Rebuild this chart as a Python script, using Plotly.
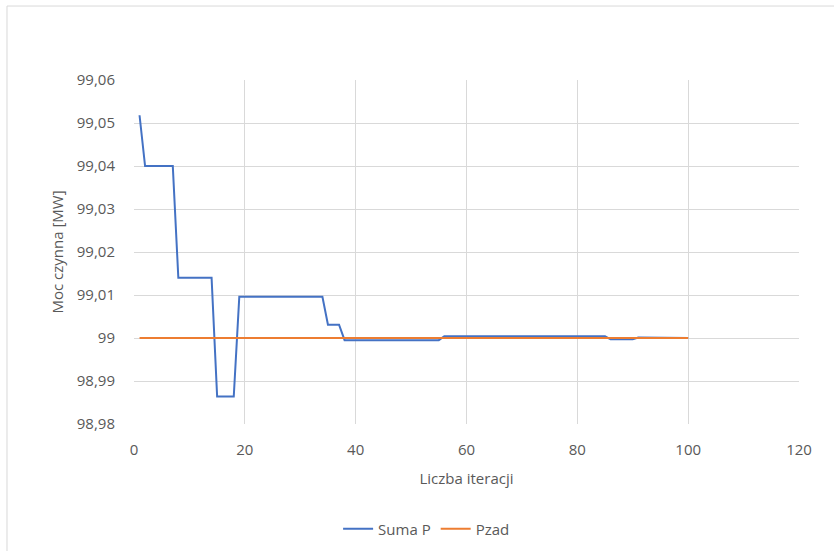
import plotly.graph_objects as go

iterations = list(range(1, 101))
suma_p = [
    99.0518,
    99.0400, 99.0400, 99.0400, 99.0400, 99.0400, 99.0400,
    99.0140, 99.0140, 99.0140, 99.0140, 99.0140, 99.0140, 99.0140,
    98.9864, 98.9864, 98.9864, 98.9864,
    99.0096, 99.0096, 99.0096, 99.0096, 99.0096, 99.0096, 99.0096, 99.0096,
    99.0096, 99.0096, 99.0096, 99.0096, 99.0096, 99.0096, 99.0096, 99.0096,
    99.0031, 99.0031, 99.0031,
    98.9995, 98.9995, 98.9995, 98.9995, 98.9995, 98.9995, 98.9995, 98.9995, 98.9995,
    98.9995, 98.9995, 98.9995, 98.9995, 98.9995, 98.9995, 98.9995, 98.9995, 98.9995,
    99.0004, 99.0004, 99.0004, 99.0004, 99.0004, 99.0004, 99.0004, 99.0004, 99.0004, 99.0004,
    99.0004, 99.0004, 99.0004, 99.0004, 99.0004, 99.0004, 99.0004, 99.0004, 99.0004, 99.0004,
    99.0004, 99.0004, 99.0004, 99.0004, 99.0004, 99.0004, 99.0004, 99.0004, 99.0004, 99.0004,
    98.9997, 98.9997, 98.9997, 98.9997, 98.9997,
    99.0001, 99.0001, 99.0001, 99.0001, 99.0001, 99.0001, 99.0001,
    99.0000, 99.0000, 99.0000,
]
pzad = [99.0] * 100

y_ticks = [98.98, 98.99, 99.00, 99.01, 99.02, 99.03, 99.04, 99.05, 99.06]
y_labels = ["98,98", "98,99", "99", "99,01", "99,02", "99,03", "99,04", "99,05", "99,06"]
x_ticks = [0, 20, 40, 60, 80, 100, 120]

FONT = "Open Sans"
GRID = "#d9d9d9"
TXT = "#595959"

fig = go.Figure()
fig.add_trace(go.Scatter(x=iterations, y=suma_p, mode="lines", name="Suma P",
                         line=dict(color="#4472C4", width=2)))
fig.add_trace(go.Scatter(x=iterations, y=pzad, mode="lines", name="Pzad",
                         line=dict(color="#ED7D31", width=2)))

fig.update_layout(
    width=834, height=551,
    margin=dict(l=134, r=35, t=80, b=127, autoexpand=False),
    paper_bgcolor="white", plot_bgcolor="white",
    font=dict(family=FONT, size=14, color=TXT),
    showlegend=True,
    legend=dict(orientation="h", x=0.44, xanchor="center", y=-0.305, yanchor="middle",
                font=dict(size=15, color=TXT), itemwidth=30),
    xaxis=dict(range=[0, 120], tickvals=x_ticks, showgrid=True, gridcolor=GRID, gridwidth=1,
               zeroline=False, showline=False, ticks="", tickfont=dict(size=15, color=TXT),
               ticklabelstandoff=15, automargin=False,
               title=dict(text="Liczba iteracji", font=dict(size=15, color=TXT), standoff=15)),
    yaxis=dict(range=[98.98, 99.06], tickvals=y_ticks, ticktext=y_labels, showgrid=True,
               gridcolor=GRID, gridwidth=1, zeroline=False, showline=False, ticks="",
               tickfont=dict(size=15, color=TXT), ticklabelstandoff=18, automargin=False,
               title=dict(text="Moc czynna [MW]", font=dict(size=15, color=TXT), standoff=9)),
    shapes=[dict(type="rect", xref="paper", yref="paper", x0=-0.191, x1=1.2, y0=-0.6, y1=1.215,
                 line=dict(color=GRID, width=1), fillcolor="rgba(0,0,0,0)", layer="below")],
)

fig.write_html("out.html")
